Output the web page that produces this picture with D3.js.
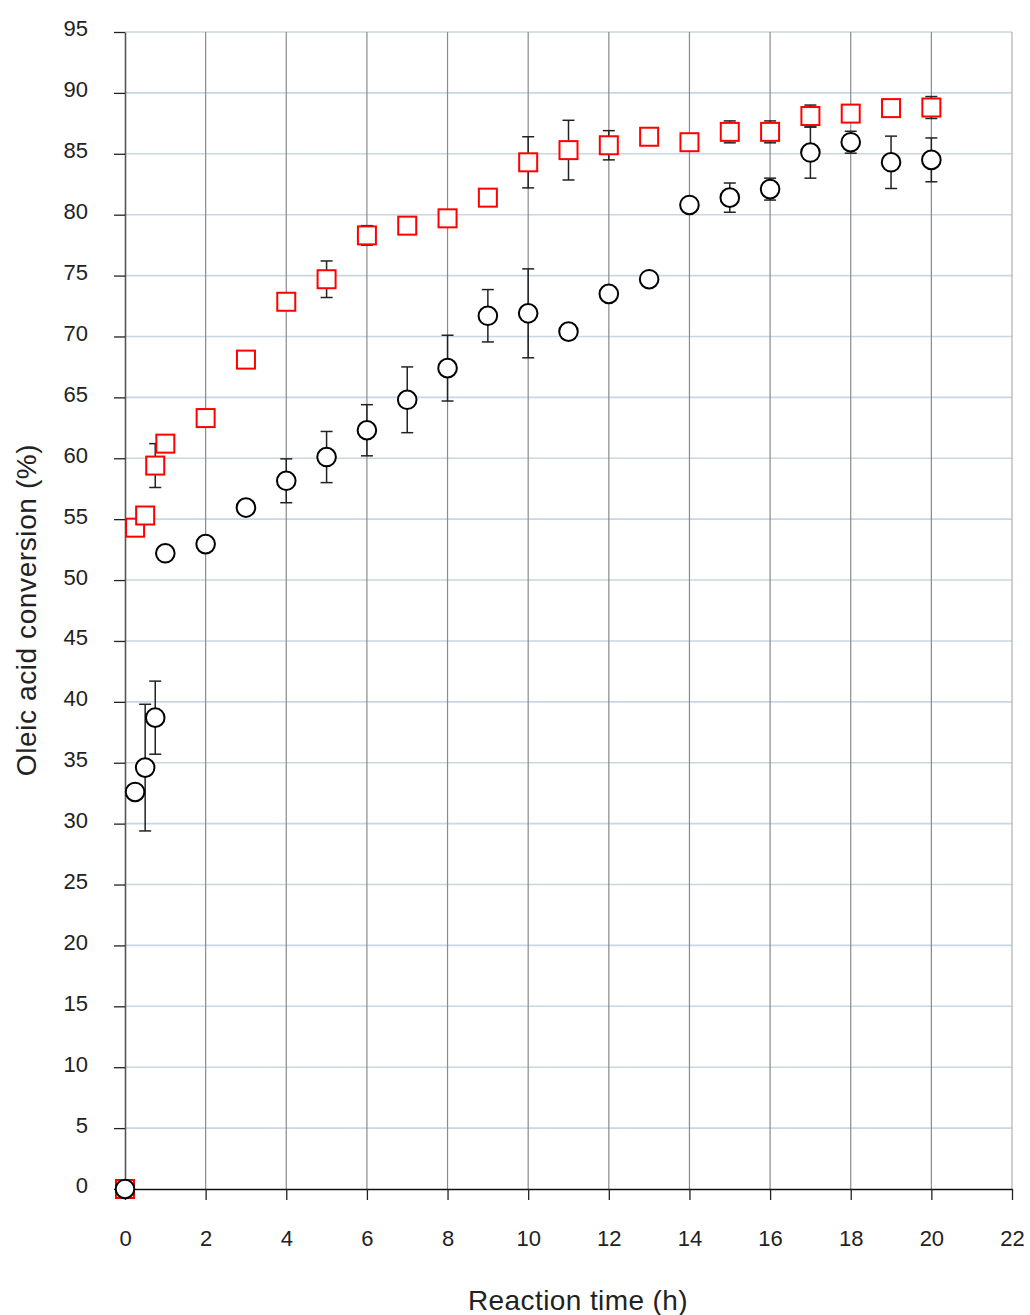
<!DOCTYPE html>
<html>
<head>
<meta charset="utf-8">
<script src="https://cdn.jsdelivr.net/npm/d3@7"></script>
<style>
  body { margin: 0; background: #fff; }
  svg text { font-family: "Liberation Sans", Arial, sans-serif; fill: #222; }
</style>
</head>
<body>
<div id="container"></div>
<script>
/* CONSTANTS AND GLOBALS */
const width = 1030, height = 1315;
const margin = { top: 32, right: 18, bottom: 126, left: 125 };

/* DATA */
const times = [0, 0.25, 0.5, 0.75, 1, 2, 3, 4, 5, 6, 7, 8, 9, 10, 11, 12, 13, 14, 15, 16, 17, 18, 19, 20];

// red squares
const squareValues = [0, 54.3, 55.3, 59.4, 61.2, 63.3, 68.1, 72.85, 74.7, 78.3, 79.1, 79.7, 81.4, 84.3, 85.3, 85.7, 86.4, 85.95, 86.8, 86.8, 88.1, 88.3, 88.75, 88.8];
const squareErrors = [0, 0, 0, 1.8, 0, 0, 0, 0, 1.5, 0.8, 0.6, 0, 0, 2.1, 2.45, 1.2, 0, 0, 0.9, 0.9, 0.9, 0, 0, 0.9];

// black circles
const circleValues = [0, 32.6, 34.6, 38.7, 52.2, 52.95, 55.95, 58.15, 60.1, 62.3, 64.8, 67.4, 71.7, 71.9, 70.4, 73.5, 74.7, 80.8, 81.4, 82.1, 85.1, 85.95, 84.3, 84.5];
const circleErrors = [0, 0, 5.2, 3.0, 0, 0, 0, 1.8, 2.1, 2.1, 2.7, 2.7, 2.15, 3.65, 0, 0, 0, 0, 1.2, 0.9, 2.1, 0.9, 2.15, 1.8];

const xTicks = d3.range(0, 23, 2);
const yTicks = d3.range(0, 96, 5);

const xTitle = "Reaction time (h)";
const yTitle = "Oleic acid conversion (%)";

const squares = times.map((t, i) => ({ t: t, v: squareValues[i], e: squareErrors[i] }));
const circles = times.map((t, i) => ({ t: t, v: circleValues[i], e: circleErrors[i] }));

const svg = d3.select("#container")
  .append("svg")
  .attr("width", width)
  .attr("height", height);

const plotW = width - margin.left - margin.right;
const plotH = height - margin.top - margin.bottom;

const g = svg.append("g")
  .attr("transform", `translate(${margin.left},${margin.top})`);

// SCALES
const x = d3.scaleLinear().domain([0, 22]).range([0, plotW]);
const y = d3.scaleLinear().domain([0, 95]).range([plotH, 0]);

// horizontal grid
g.append("g")
  .selectAll("line")
  .data(yTicks.filter(d => d > 0))
  .join("line")
  .attr("x1", 0)
  .attr("x2", plotW)
  .attr("y1", d => y(d))
  .attr("y2", d => y(d))
  .attr("stroke", "#c9d6e3")
  .attr("stroke-width", 1.6);

// vertical grid
g.append("g")
  .selectAll("line")
  .data(xTicks.filter(d => d > 0))
  .join("line")
  .attr("x1", d => x(d))
  .attr("x2", d => x(d))
  .attr("y1", 0)
  .attr("y2", plotH)
  .attr("stroke", d => d === 22 ? "#b0b0b0" : "#8a8a8a")
  .attr("stroke-width", 1.2);

// AXES
const yAxis = g.append("g")
  .call(d3.axisLeft(y).tickValues(yTicks).tickSize(11).tickPadding(26).tickSizeOuter(0));
yAxis.select(".domain").attr("stroke", "#555").attr("stroke-width", 1.6);
yAxis.selectAll(".tick line").attr("stroke", "#222").attr("stroke-width", 1.3);
yAxis.selectAll(".tick text")
  .attr("font-size", 22)
  .attr("dy", "0.18em")
  .style("font-family", "'Liberation Sans', Arial, sans-serif");

const xAxis = g.append("g")
  .attr("transform", `translate(0,${plotH})`)
  .call(d3.axisBottom(x).tickValues(xTicks).tickSize(11).tickPadding(30).tickSizeOuter(0));
xAxis.select(".domain").attr("stroke", "#111").attr("stroke-width", 1.6);
xAxis.selectAll(".tick line").attr("stroke", "#222").attr("stroke-width", 1.3);
xAxis.selectAll(".tick text")
  .attr("font-size", 22)
  .style("font-family", "'Liberation Sans', Arial, sans-serif");

// axis titles
svg.append("text")
  .attr("x", 578)
  .attr("y", 1310)
  .attr("text-anchor", "middle")
  .attr("font-size", 28)
  .attr("letter-spacing", 0.4)
  .text(xTitle);

svg.append("text")
  .attr("transform", "translate(36,610) rotate(-90)")
  .attr("text-anchor", "middle")
  .attr("font-size", 28)
  .attr("letter-spacing", 0.6)
  .text(yTitle);

// SERIES
function drawErrors(data) {
  const eg = g.append("g").attr("stroke", "#222").attr("stroke-width", 1.5);
  const withErr = data.filter(d => d.e > 0);
  eg.selectAll("line.bar")
    .data(withErr)
    .join("line")
    .attr("class", "bar")
    .attr("x1", d => x(d.t)).attr("x2", d => x(d.t))
    .attr("y1", d => y(d.v + d.e)).attr("y2", d => y(d.v - d.e));
  eg.selectAll("line.capTop")
    .data(withErr)
    .join("line")
    .attr("class", "capTop")
    .attr("x1", d => x(d.t) - 6).attr("x2", d => x(d.t) + 6)
    .attr("y1", d => y(d.v + d.e)).attr("y2", d => y(d.v + d.e));
  eg.selectAll("line.capBot")
    .data(withErr)
    .join("line")
    .attr("class", "capBot")
    .attr("x1", d => x(d.t) - 6).attr("x2", d => x(d.t) + 6)
    .attr("y1", d => y(d.v - d.e)).attr("y2", d => y(d.v - d.e));
}

drawErrors(squares);
g.append("g")
  .selectAll("rect")
  .data(squares)
  .join("rect")
  .attr("x", d => x(d.t) - 9)
  .attr("y", d => y(d.v) - 9)
  .attr("width", 18)
  .attr("height", 18)
  .attr("fill", "#fff")
  .attr("stroke", "#ff0000")
  .attr("stroke-width", 2);

drawErrors(circles);
g.append("g")
  .selectAll("circle")
  .data(circles)
  .join("circle")
  .attr("cx", d => x(d.t))
  .attr("cy", d => y(d.v))
  .attr("r", 9.3)
  .attr("fill", "#fff")
  .attr("stroke", "#000")
  .attr("stroke-width", 2);
</script>
</body>
</html>
